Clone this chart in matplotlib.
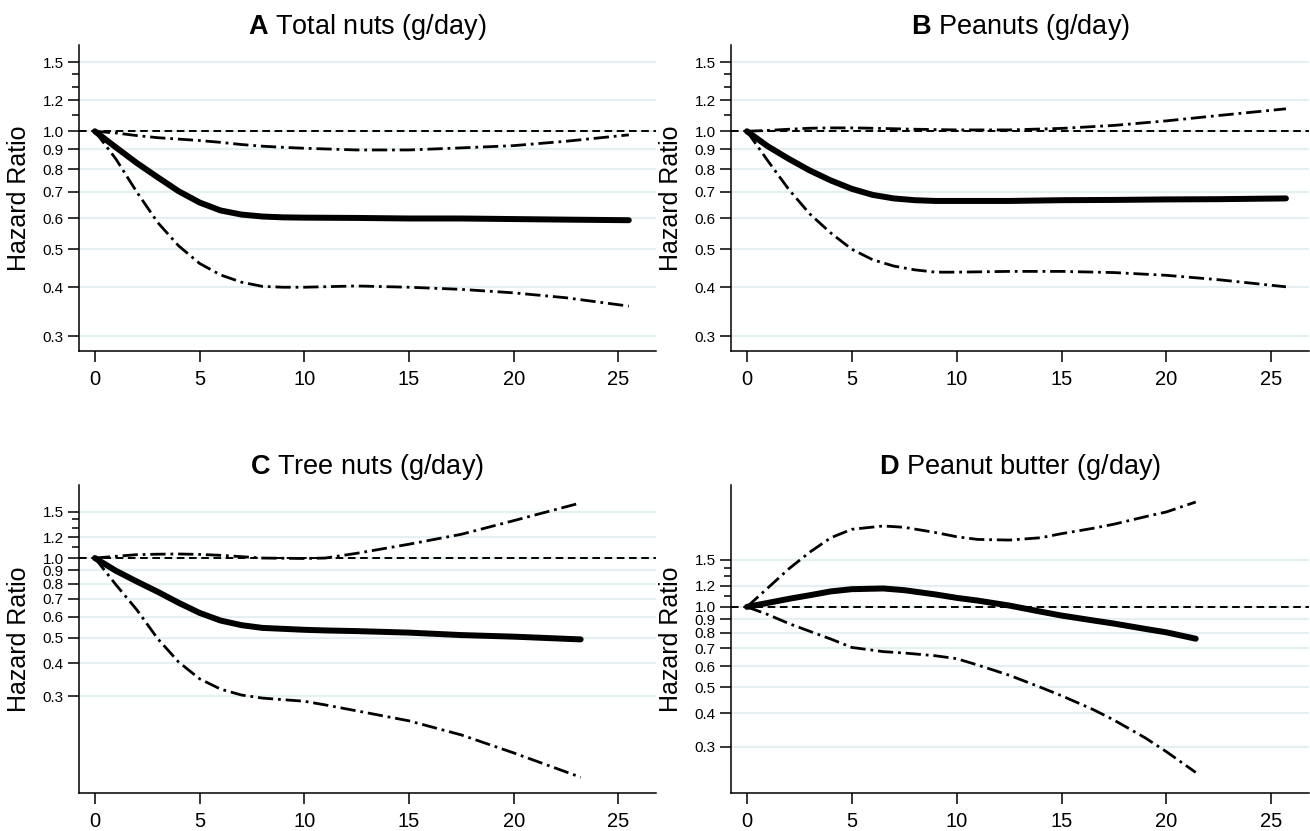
import matplotlib
matplotlib.use('Agg')
import matplotlib.pyplot as plt
from matplotlib.ticker import FixedLocator, NullFormatter

plt.rcParams['font.family'] = ['Liberation Sans', 'DejaVu Sans']
plt.rcParams['mathtext.fontset'] = 'custom'
plt.rcParams['mathtext.rm'] = 'Liberation Sans'
plt.rcParams['mathtext.bf'] = 'Liberation Sans:bold'
plt.rcParams['lines.scale_dashes'] = False

# ---------------- data ----------------
titles = [r"$\mathbf{A}$ Total nuts (g/day)", r"$\mathbf{B}$ Peanuts (g/day)",
          r"$\mathbf{C}$ Tree nuts (g/day)", r"$\mathbf{D}$ Peanut butter (g/day)"]

x_a = [0, 1, 2, 3, 4, 5, 6, 7, 8, 9, 10, 12.5, 15, 17.5, 20, 22.5, 25.5]
hr_a = [1.0, 0.91, 0.83, 0.763, 0.703, 0.658, 0.628, 0.613, 0.606, 0.603, 0.602, 0.601, 0.599, 0.599, 0.597, 0.595, 0.593]
up_a = [1.0, 0.99, 0.975, 0.963, 0.955, 0.947, 0.937, 0.925, 0.916, 0.91, 0.905, 0.896, 0.896, 0.907, 0.919, 0.943, 0.979]
lo_a = [1.0, 0.85, 0.70, 0.585, 0.51, 0.46, 0.43, 0.412, 0.402, 0.40, 0.40, 0.403, 0.40, 0.395, 0.387, 0.376, 0.358]

x_b = [0, 1, 2, 3, 4, 5, 6, 7, 8, 9, 10, 12.5, 15, 17.5, 20, 22.5, 25.7]
hr_b = [1.0, 0.915, 0.85, 0.794, 0.749, 0.713, 0.688, 0.674, 0.667, 0.664, 0.664, 0.664, 0.667, 0.668, 0.670, 0.671, 0.674]
up_b = [1.0, 1.005, 1.012, 1.018, 1.02, 1.02, 1.018, 1.015, 1.012, 1.01, 1.008, 1.008, 1.017, 1.035, 1.063, 1.097, 1.141]
lo_b = [1.0, 0.84, 0.71, 0.615, 0.55, 0.5, 0.47, 0.453, 0.443, 0.437, 0.437, 0.439, 0.439, 0.436, 0.429, 0.418, 0.401]

x_c = [0, 1, 2, 3, 4, 5, 6, 7, 8, 10, 11, 12.5, 15, 17.5, 20, 23.2]
hr_c = [1.0, 0.895, 0.815, 0.745, 0.677, 0.62, 0.58, 0.557, 0.544, 0.535, 0.532, 0.529, 0.522, 0.511, 0.504, 0.492]
up_c = [1.0, 1.015, 1.03, 1.034, 1.036, 1.032, 1.024, 1.012, 1.0, 0.996, 1.0, 1.042, 1.128, 1.23, 1.385, 1.617]
lo_c = [1.0, 0.793, 0.637, 0.495, 0.404, 0.349, 0.319, 0.303, 0.295, 0.287, 0.278, 0.264, 0.242, 0.214, 0.183, 0.148]

x_d = [0, 1, 2, 3, 4, 5, 6.5, 7.5, 9, 10, 11, 12.5, 14, 15, 16.5, 17.5, 19, 20, 21.4]
hr_d = [1.0, 1.035, 1.072, 1.106, 1.143, 1.165, 1.172, 1.155, 1.113, 1.081, 1.056, 1.012, 0.96, 0.928, 0.89, 0.866, 0.827, 0.803, 0.76]
up_d = [1.0, 1.178, 1.389, 1.604, 1.815, 1.952, 2.009, 1.986, 1.898, 1.831, 1.789, 1.779, 1.815, 1.88, 1.969, 2.04, 2.177, 2.267, 2.47]
lo_d = [1.0, 0.936, 0.866, 0.81, 0.758, 0.705, 0.68, 0.672, 0.656, 0.64, 0.606, 0.555, 0.5, 0.465, 0.413, 0.377, 0.323, 0.287, 0.24]

y_ticks = [0.3, 0.4, 0.5, 0.6, 0.7, 0.8, 0.9, 1.0, 1.2, 1.5]
y_tick_labels = ['0.3', '0.4', '0.5', '0.6', '0.7', '0.8', '0.9', '1.0', '1.2', '1.5']
y_minor = [1.1, 1.3, 1.4]
x_ticks = [0, 5, 10, 15, 20, 25]

panels = [
    (x_a, hr_a, up_a, lo_a),
    (x_b, hr_b, up_b, lo_b),
    (x_c, hr_c, up_c, lo_c),
    (x_d, hr_d, up_d, lo_d),
]

# ---------------- layout ----------------
W, H = 1310, 831
fig = plt.figure(figsize=(W / 100, H / 100), dpi=100)

boxes = [(79, 45, 656, 351), (731, 45, 1309, 351), (79, 485, 656, 793), (731, 485, 1309, 793)]
ylims = [(0.275, 1.66), (0.275, 1.66), (0.129, 1.89), (0.201, 2.86)]
xlim = (-0.76, 26.8)

grid_color = '#e6eff1'
ci_dash = (0, (11, 3.5, 2.0, 3.5))

for (l, t, r, b), title, (xs, hr, up, lo), yl in zip(boxes, titles, panels, ylims):
    ax = fig.add_axes([l / W, 1 - b / H, (r - l) / W, (b - t) / H])
    ax.set_yscale('log')
    ax.set_ylim(*yl)
    ax.set_xlim(*xlim)
    ax.set_yticks(y_ticks, labels=y_tick_labels)
    ax.yaxis.set_minor_locator(FixedLocator(y_minor))
    ax.yaxis.set_minor_formatter(NullFormatter())
    ax.set_xticks(x_ticks)
    ax.set_axisbelow(True)
    ax.grid(axis='y', which='major', color=grid_color, lw=1.6)
    ax.grid(axis='x', visible=False)
    for s in ('top', 'right'):
        ax.spines[s].set_visible(False)
    for s in ('left', 'bottom'):
        ax.spines[s].set_linewidth(1.1)
    ax.tick_params(axis='y', which='major', length=8, width=1.1, labelsize=11, pad=3)
    ax.tick_params(axis='y', which='minor', length=5, width=1.1)
    ax.tick_params(axis='x', which='major', length=8, width=1.1, labelsize=14.5, pad=6)

    ax.axhline(1.0, color='black', lw=1.4, linestyle=(0, (5.5, 3.3)), zorder=2)
    ax.plot(xs, up, color='black', lw=2.0, linestyle=ci_dash, dash_capstyle='butt',
            dash_joinstyle='round', zorder=3)
    ax.plot(xs, lo, color='black', lw=2.0, linestyle=ci_dash, dash_capstyle='butt',
            dash_joinstyle='round', zorder=3)
    ax.plot(xs, hr, color='black', lw=4.3, solid_capstyle='round', solid_joinstyle='round', zorder=4)

    ax.set_title(title, fontsize=19.5, pad=8)
    ax.set_ylabel('Hazard Ratio', fontsize=18, labelpad=8)

fig.savefig('out.png', dpi=100)
